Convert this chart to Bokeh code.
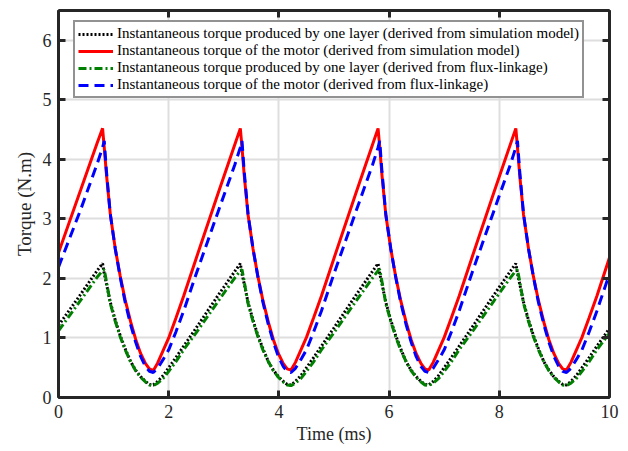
from bokeh.plotting import figure
from bokeh.models import Range1d, LinearAxis, Legend, LegendItem, FixedTicker, CustomJSTickFormatter
from bokeh.embed import file_html
from bokeh.resources import INLINE

# Time (ms)
time_ms = [
    0.00, 0.40, 0.70, 0.80, 0.83, 0.87, 0.94, 1.03, 1.12, 1.21, 1.31, 1.40, 1.49, 1.58, 1.65, 1.72, 1.80, 1.90, 2.00, 2.13, 2.27,
    2.50, 2.90, 3.20, 3.30, 3.33, 3.37, 3.44, 3.53, 3.62, 3.71, 3.81, 3.90, 3.99, 4.08, 4.15, 4.22, 4.30, 4.40, 4.50, 4.63, 4.77,
    5.00, 5.40, 5.70, 5.80, 5.83, 5.87, 5.94, 6.03, 6.12, 6.21, 6.31, 6.40, 6.49, 6.58, 6.65, 6.72, 6.80, 6.90, 7.00, 7.13, 7.27,
    7.50, 7.90, 8.20, 8.30, 8.33, 8.37, 8.44, 8.53, 8.62, 8.71, 8.81, 8.90, 8.99, 9.08, 9.15, 9.22, 9.30, 9.40, 9.50, 9.63, 9.77,
    10.00,
]

# Instantaneous torque produced by one layer (simulation model)
layer_sim = [
    1.21, 1.73, 2.13, 2.25, 2.08, 1.91, 1.60, 1.30, 1.04, 0.82, 0.60, 0.46, 0.35, 0.27, 0.22, 0.21, 0.27, 0.37, 0.50, 0.67, 0.86,
    1.17, 1.72, 2.12, 2.25, 2.08, 1.91, 1.60, 1.30, 1.04, 0.82, 0.60, 0.46, 0.35, 0.27, 0.22, 0.21, 0.27, 0.37, 0.50, 0.67, 0.86,
    1.17, 1.72, 2.12, 2.25, 2.08, 1.91, 1.60, 1.30, 1.04, 0.82, 0.60, 0.46, 0.35, 0.27, 0.22, 0.21, 0.27, 0.37, 0.50, 0.67, 0.86,
    1.17, 1.72, 2.12, 2.25, 2.08, 1.91, 1.60, 1.30, 1.04, 0.82, 0.60, 0.46, 0.35, 0.27, 0.22, 0.21, 0.27, 0.37, 0.50, 0.67, 0.86,
    1.16,
]

# Instantaneous torque of the motor (simulation model)
motor_sim = [
    2.43, 3.48, 4.27, 4.52, 4.20, 3.75, 3.08, 2.50, 2.04, 1.64, 1.27, 0.98, 0.74, 0.57, 0.48, 0.45, 0.58, 0.79, 1.00, 1.33, 1.70,
    2.34, 3.44, 4.25, 4.52, 4.20, 3.74, 3.07, 2.50, 2.03, 1.63, 1.26, 0.97, 0.74, 0.57, 0.48, 0.46, 0.59, 0.80, 1.01, 1.34, 1.70,
    2.34, 3.44, 4.25, 4.52, 4.20, 3.74, 3.07, 2.50, 2.03, 1.63, 1.26, 0.97, 0.74, 0.57, 0.48, 0.46, 0.59, 0.80, 1.01, 1.34, 1.70,
    2.34, 3.44, 4.25, 4.52, 4.20, 3.74, 3.07, 2.50, 2.03, 1.63, 1.26, 0.97, 0.74, 0.57, 0.48, 0.46, 0.59, 0.80, 1.01, 1.34, 1.70,
    2.35,
]

# Instantaneous torque produced by one layer (flux-linkage)
layer_flux = [
    1.12, 1.63, 2.02, 2.13, 2.15, 1.95, 1.58, 1.28, 1.02, 0.80, 0.60, 0.45, 0.34, 0.26, 0.21, 0.20, 0.24, 0.32, 0.44, 0.60, 0.80,
    1.09, 1.62, 2.01, 2.13, 2.15, 1.95, 1.58, 1.28, 1.02, 0.80, 0.60, 0.45, 0.34, 0.26, 0.21, 0.20, 0.24, 0.32, 0.44, 0.60, 0.80,
    1.09, 1.62, 2.01, 2.13, 2.15, 1.95, 1.58, 1.28, 1.02, 0.80, 0.60, 0.45, 0.34, 0.26, 0.21, 0.20, 0.24, 0.32, 0.44, 0.60, 0.80,
    1.09, 1.62, 2.01, 2.13, 2.15, 1.95, 1.58, 1.28, 1.02, 0.80, 0.60, 0.45, 0.34, 0.26, 0.21, 0.20, 0.24, 0.32, 0.44, 0.60, 0.80,
    1.08,
]

# Instantaneous torque of the motor (flux-linkage)
motor_flux = [
    2.19, 3.15, 3.92, 4.20, 4.31, 3.80, 3.08, 2.50, 2.02, 1.60, 1.22, 0.93, 0.69, 0.52, 0.44, 0.42, 0.49, 0.64, 0.80, 1.10, 1.45,
    2.08, 3.13, 3.91, 4.20, 4.31, 3.80, 3.08, 2.50, 2.02, 1.60, 1.22, 0.93, 0.69, 0.52, 0.44, 0.42, 0.49, 0.64, 0.80, 1.10, 1.45,
    2.08, 3.13, 3.91, 4.20, 4.31, 3.80, 3.08, 2.50, 2.02, 1.60, 1.22, 0.93, 0.69, 0.52, 0.44, 0.42, 0.49, 0.64, 0.80, 1.10, 1.45,
    2.08, 3.13, 3.91, 4.20, 4.31, 3.80, 3.08, 2.50, 2.02, 1.60, 1.22, 0.93, 0.69, 0.52, 0.44, 0.42, 0.49, 0.64, 0.80, 1.10, 1.45,
    2.08,
]

x_ticks = [0, 2, 4, 6, 8, 10]
y_ticks = [0, 1, 2, 3, 4, 5, 6]

labels = [
    "Instantaneous torque produced by one layer (derived from simulation model)",
    "Instantaneous torque of the motor (derived from simulation model)",
    "Instantaneous torque produced by one layer (derived from flux-linkage)",
    "Instantaneous torque of the motor (derived from flux-linkage)",
]

FONT = "Liberation Serif"
AX = "#262626"

p = figure(width=628, height=451, output_backend="svg", toolbar_location=None,
           x_range=Range1d(0, 10), y_range=Range1d(0, 6.5),
           min_border_left=58, min_border_right=19, min_border_top=10, min_border_bottom=54)
p.background_fill_color = "white"
p.border_fill_color = "white"
p.outline_line_color = AX
p.outline_line_width = 2

r1 = p.line(time_ms, layer_sim, line_color="black", line_width=3, line_dash="2 2")
r2 = p.line(time_ms, motor_sim, line_color="#ff0000", line_width=3)
r3 = p.line(time_ms, layer_flux, line_color="#008000", line_width=3, line_dash="8 3 2 3")
r4 = p.line(time_ms, motor_flux, line_color="#0000ff", line_width=3, line_dash="10 6")

def style_axis(ax, show_labels=True):
    ax.axis_line_color = AX
    ax.axis_line_width = 3
    ax.major_tick_line_color = AX
    ax.major_tick_line_width = 3
    ax.major_tick_in = 7
    ax.major_tick_out = 0
    ax.minor_tick_line_color = None
    ax.major_label_text_font = FONT
    ax.major_label_text_color = AX
    ax.axis_label_text_font = FONT
    ax.axis_label_text_font_style = "normal"
    ax.axis_label_text_color = AX
    if show_labels:
        ax.major_label_text_font_size = "18px"
        ax.axis_label_text_font_size = "18px"
    else:
        ax.formatter = CustomJSTickFormatter(code="return '';")
        ax.major_label_standoff = 0

xa = p.xaxis[0]
ya = p.yaxis[0]
xa.ticker = FixedTicker(ticks=x_ticks)
ya.ticker = FixedTicker(ticks=y_ticks)
xa.axis_label = "Time (ms)"
ya.axis_label = "Torque (N.m)"
style_axis(xa)
style_axis(ya)
ya.axis_label_text_font_size = "19px"
xa.major_label_standoff = 7
xa.axis_label_standoff = 3
ya.major_label_standoff = 7
ya.axis_label_standoff = 5

top = LinearAxis(ticker=FixedTicker(ticks=x_ticks))
right = LinearAxis(ticker=FixedTicker(ticks=y_ticks))
style_axis(top, False)
style_axis(right, False)
p.add_layout(top, "above")
p.add_layout(right, "right")

p.xgrid.ticker = FixedTicker(ticks=x_ticks)
p.ygrid.ticker = FixedTicker(ticks=y_ticks)
for g in (p.xgrid[0], p.ygrid[0]):
    g.grid_line_color = "#dedede"
    g.grid_line_width = 2

legend = Legend(items=[LegendItem(label=l, renderers=[r]) for l, r in zip(labels, [r1, r2, r3, r4])],
                location=(15, 299))
legend.label_text_font = FONT
legend.label_text_font_size = "15px"
legend.label_text_color = "black"
legend.label_height = 16
legend.glyph_height = 16
legend.glyph_width = 35
legend.label_standoff = 4
legend.spacing = 0
legend.padding = 3
legend.margin = 0
legend.border_line_color = AX
legend.border_line_width = 2
legend.background_fill_color = "white"
legend.background_fill_alpha = 1
p.add_layout(legend, "center")

open("out.html", "w").write(file_html(p, INLINE))
